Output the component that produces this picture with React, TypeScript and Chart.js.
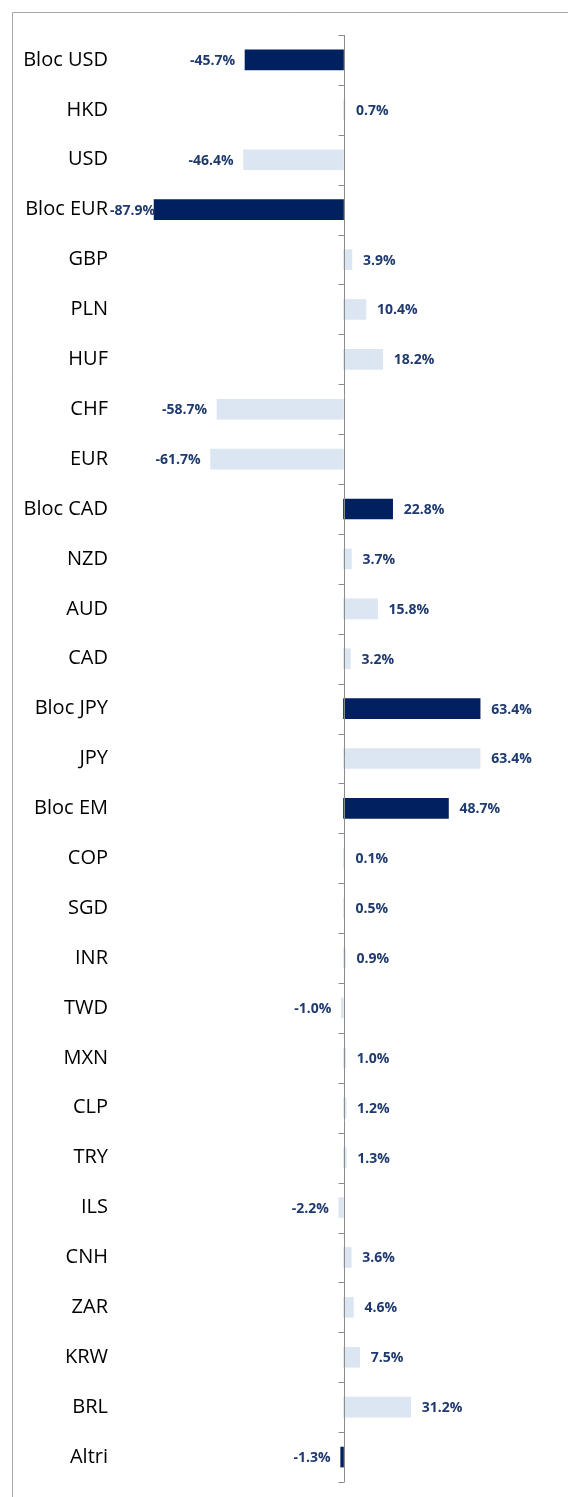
import React, { useEffect, useRef } from "react";
import { Chart, registerables } from "chart.js";

Chart.register(...registerables);

const categories: string[] = [
  "Bloc USD", "HKD", "USD", "Bloc EUR", "GBP", "PLN", "HUF", "CHF", "EUR",
  "Bloc CAD", "NZD", "AUD", "CAD", "Bloc JPY", "JPY", "Bloc EM", "COP", "SGD",
  "INR", "TWD", "MXN", "CLP", "TRY", "ILS", "CNH", "ZAR", "KRW", "BRL", "Altri",
];

const values: number[] = [
  -45.7, 0.7, -46.4, -87.9, 3.9, 10.4, 18.2, -58.7, -61.7,
  22.8, 3.7, 15.8, 3.2, 63.4, 63.4, 48.7, 0.1, 0.5,
  0.9, -1.0, 1.0, 1.2, 1.3, -2.2, 3.6, 4.6, 7.5, 31.2, -1.3,
];

const isBloc: boolean[] = categories.map((c) => c.startsWith("Bloc") || c === "Altri");

const DARK = "#002060";
const LIGHT = "#dce6f2";
const LABEL_COLOR = "#1f3a6e";

export default function App() {
  const ref = useRef<HTMLCanvasElement | null>(null);

  useEffect(() => {
    if (!ref.current) return;

    const framePlugin = {
      id: "frame",
      beforeDraw(chart: any) {
        const ctx = chart.ctx;
        ctx.save();
        ctx.strokeStyle = "#a6a6a6";
        ctx.lineWidth = 1;
        ctx.beginPath();
        ctx.moveTo(12.5, chart.height);
        ctx.lineTo(12.5, 12.5);
        ctx.lineTo(chart.width, 12.5);
        ctx.stroke();
        ctx.restore();
      },
    };

    const axisPlugin = {
      id: "zeroAxis",
      afterDatasetsDraw(chart: any) {
        const ctx = chart.ctx;
        const xs = chart.scales.x;
        const { top, bottom } = chart.chartArea;
        const x0 = Math.round(xs.getPixelForValue(0)) + 0.5;
        ctx.save();
        ctx.strokeStyle = "#8c8c8c";
        ctx.lineWidth = 1;
        ctx.beginPath();
        ctx.moveTo(x0, top);
        ctx.lineTo(x0, bottom);
        const n = categories.length;
        const step = (bottom - top) / n;
        for (let i = 0; i <= n; i++) {
          const y = Math.round(top + i * step) + 0.5;
          ctx.moveTo(x0 - 6, y);
          ctx.lineTo(x0, y);
        }
        ctx.stroke();

        // data labels
        ctx.font = "bold 14px 'Open Sans'";
        ctx.fillStyle = LABEL_COLOR;
        ctx.textBaseline = "middle";
        const meta = chart.getDatasetMeta(0);
        meta.data.forEach((bar: any, i: number) => {
          const v = values[i];
          const txt = v.toFixed(1) + "%";
          const y = bar.y + 1;
          if (v >= 0) {
            ctx.textAlign = "left";
            ctx.fillText(txt, Math.max(bar.x, x0) + 11, y);
          } else {
            const w = ctx.measureText(txt).width;
            ctx.textAlign = "right";
            const xr = Math.max(bar.x - 10, 110 + w);
            ctx.fillText(txt, xr, y);
          }
        });
        ctx.restore();
      },
    };

    const chart = new Chart(ref.current, {
      type: "bar",
      data: {
        labels: categories,
        datasets: [
          {
            data: values,
            backgroundColor: isBloc.map((b) => (b ? DARK : LIGHT)),
            borderWidth: 0,
            barThickness: 20,
          },
        ],
      },
      options: {
        indexAxis: "y",
        animation: false,
        responsive: false,
        maintainAspectRatio: false,
        layout: { padding: { top: 35, bottom: 15, left: 0, right: 9 } },
        plugins: {
          legend: { display: false },
          tooltip: { enabled: false },
        },
        scales: {
          x: {
            display: false,
            min: -100,
            max: 100,
          },
          y: {
            border: { display: false },
            grid: { display: false, drawTicks: false },
            ticks: {
              padding: 20,
              color: "#000000",
              font: { family: "'Open Sans'", size: 20 },
            },
            afterFit(scale: any) {
              scale.width = 128;
              scale.paddingTop = 0;
              scale.paddingBottom = 0;
            },
          },
        },
      },
      plugins: [framePlugin, axisPlugin],
    });

    return () => chart.destroy();
  }, []);

  return (
    <div style={{ position: "absolute", left: 0, top: 0, width: 568, height: 1497, background: "#fff" }}>
      <canvas ref={ref} width={568} height={1497} style={{ display: "block", width: 568, height: 1497 }} />
    </div>
  );
}
